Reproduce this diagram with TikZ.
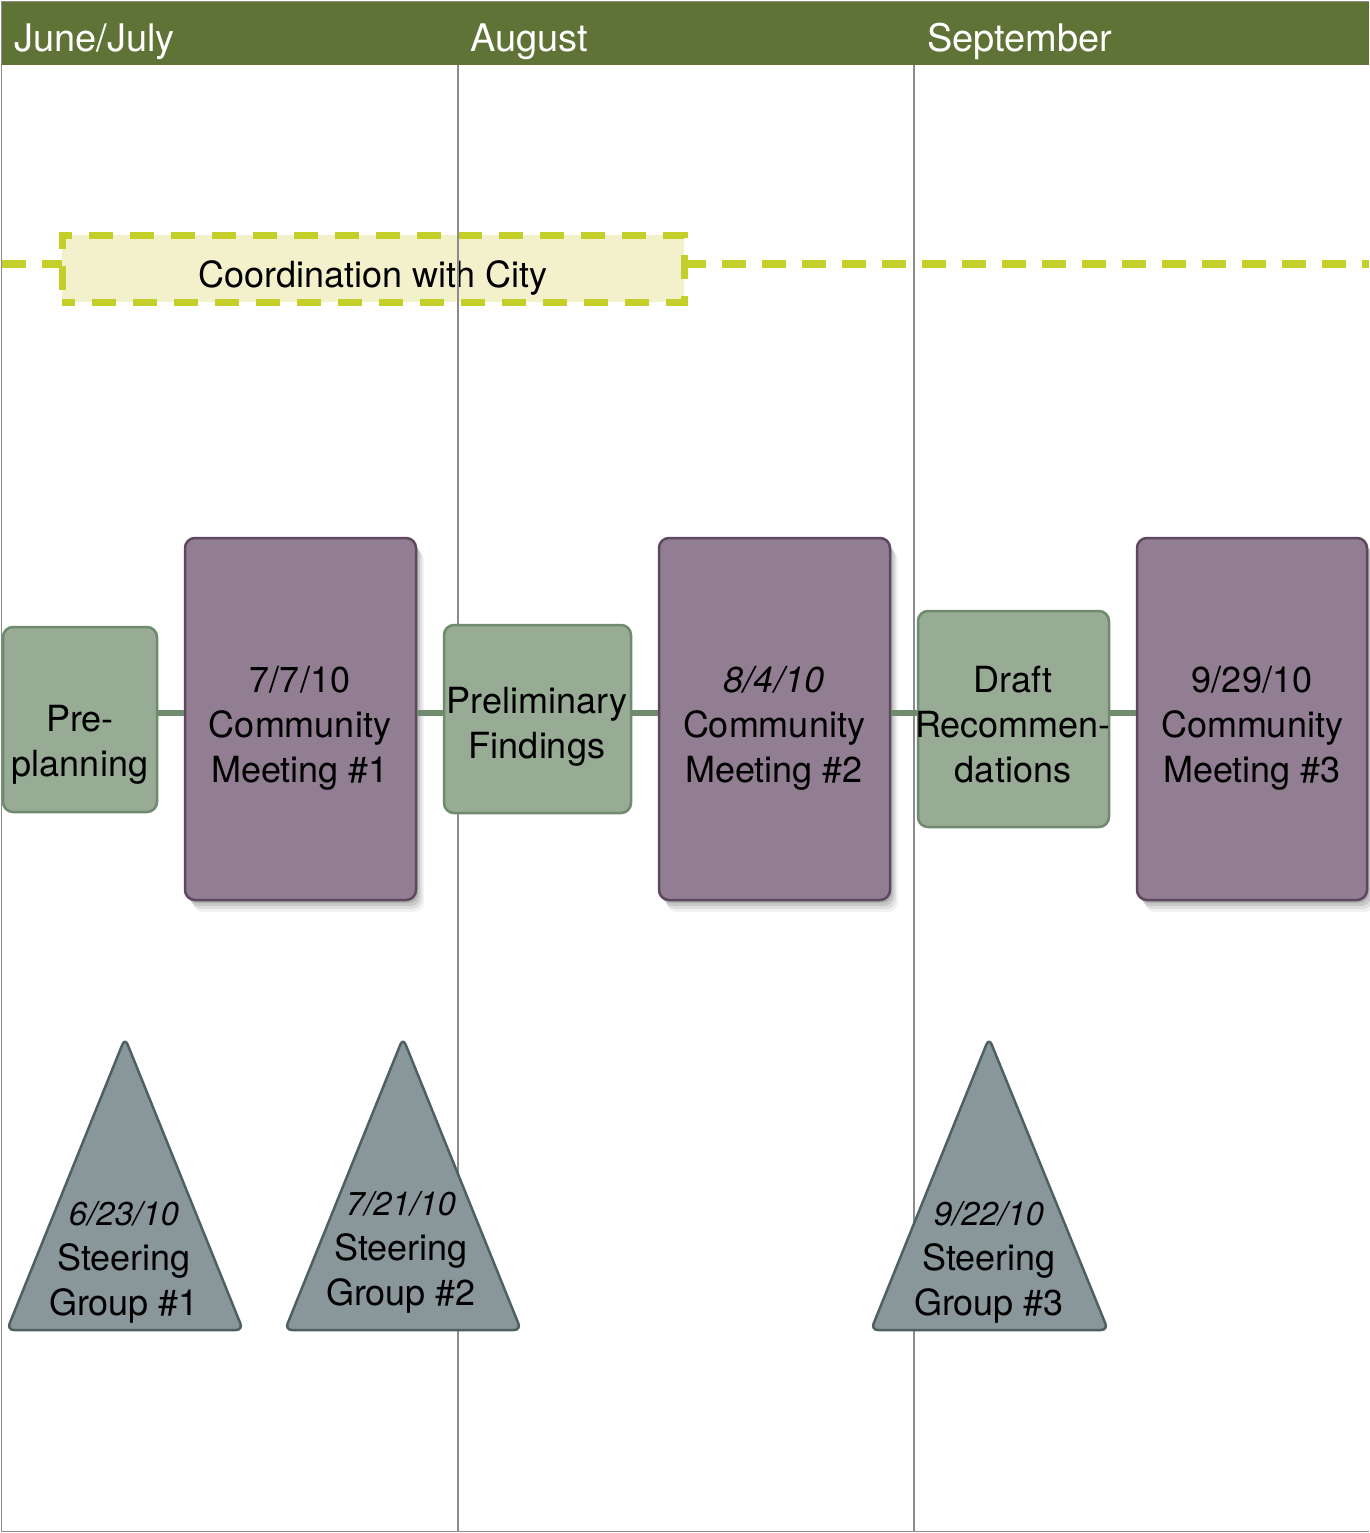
\documentclass[tikz,border=0pt]{standalone}
\usepackage{fontspec}
\setmainfont{TeX Gyre Heros}
\usetikzlibrary{shadows}
\definecolor{hdr}{HTML}{5E7335}
\definecolor{coordfill}{HTML}{F2F1CC}
\definecolor{coorddash}{HTML}{C5CF2A}
\definecolor{greenfill}{HTML}{97AB95}
\definecolor{greenline}{HTML}{6E8B6D}
\definecolor{purpfill}{HTML}{927E92}
\definecolor{purpline}{HTML}{5F4760}
\definecolor{trifill}{HTML}{8A979A}
\definecolor{triline}{HTML}{4F6064}
\definecolor{divgray}{HTML}{8C8C8C}
\begin{document}
\begin{tikzpicture}[x=1pt,y=-1pt,
  hdrtext/.style={text=white,font=\fontsize{38}{45}\selectfont,inner sep=0pt,anchor=base west},
  coordbox/.style={fill=coordfill,draw=coorddash,line width=7pt,dash pattern=on 24pt off 17pt,dash phase=11pt,inner sep=0pt},
  coordline/.style={draw=coorddash,line width=8pt,dash pattern=on 24pt off 16pt},
  divider/.style={draw=divgray,line width=1.4pt},
  greenbox/.style={fill=greenfill,draw=greenline,line width=2.5pt,rounded corners=10pt,inner sep=0pt},
  purpbox/.style={fill=purpfill,draw=purpline,line width=2.5pt,rounded corners=10pt,inner sep=0pt,
     drop shadow={shadow xshift=2pt,shadow yshift=-3pt,opacity=.12,fill=black},
     drop shadow={shadow xshift=4pt,shadow yshift=-6pt,opacity=.10,fill=black},
     drop shadow={shadow xshift=6pt,shadow yshift=-9pt,opacity=.08,fill=black},
     drop shadow={shadow xshift=8pt,shadow yshift=-12pt,opacity=.05,fill=black}},
  conn/.style={draw=greenline,line width=6pt},
  tri/.style={fill=trifill,draw=triline,line width=2.5pt,rounded corners=7pt},
  boxtext/.style={align=center,inner sep=0pt,font=\fontsize{36}{45}\selectfont},
  datefont/.style={}
]
\useasboundingbox (0,0) rectangle (1369,1533);
\fill[white] (0,0) rectangle (1369,1533);

% header band
\fill[hdr] (2,2) rectangle (1369,65);
\node[hdrtext] (hjj) at (14,52) {June/July};
\node[hdrtext] (haug) at (470,52) {August};
\node[hdrtext] (hsep) at (927,52) {September};

% outer frame
\draw[divgray,line width=1.4pt] (1369,1.5) -- (1.5,1.5) -- (1.5,1531.5) -- (1369,1531.5);

% coordination with city
\coordinate (cl) at (2,264);
\coordinate (cr) at (1369,264);
\draw[coordline] (cl) -- (cr);
\node[coordbox,minimum width=622pt,minimum height=67pt] (coord) at (373,268.5) {};
\node[inner sep=0pt,anchor=base,font=\fontsize{36}{45}\selectfont] (coordtxt) at (373,287) {Coordination with City};

% month dividers
\draw[divider] (458,65) -- (458,1531);
\draw[divider] (914,65) -- (914,1531);

% process boxes
\node[greenbox,minimum width=154pt,minimum height=185pt] (pp) at (80,719.5) {};
\node[purpbox,minimum width=231pt,minimum height=362pt] (cm1) at (300.5,719) {};
\node[greenbox,minimum width=187pt,minimum height=188pt] (pf) at (537.5,719) {};
\node[purpbox,minimum width=231pt,minimum height=362pt] (cm2) at (774.5,719) {};
\node[greenbox,minimum width=191pt,minimum height=216pt] (dr) at (1013.5,719) {};
\node[purpbox,minimum width=230pt,minimum height=362pt] (cm3) at (1252,719) {};

% connectors
\draw[conn] (pp.east |- 0,713) -- (cm1.west |- 0,713);
\draw[conn] (cm1.east |- 0,713) -- (pf.west |- 0,713);
\draw[conn] (pf.east |- 0,713) -- (cm2.west |- 0,713);
\draw[conn] (cm2.east |- 0,713) -- (dr.west |- 0,713);
\draw[conn] (dr.east |- 0,713) -- (cm3.west |- 0,713);

% box texts
\node[boxtext] (pptxt) at (80,745) {Pre-\\planning};
\node[boxtext] (cm1txt) at (300,728) {7/7/10\\Community\\Meeting \#1};
\node[boxtext] (pftxt) at (537,727) {Preliminary\\Findings};
\node[boxtext] (cm2txt) at (774,728) {\itshape 8/4/10\\Community\\Meeting \#2};
\node[boxtext] (drtxt) at (1013,725) {Draft\\Recommen-\\dations};
\node[boxtext] (cm3txt) at (1252,728) {9/29/10\\Community\\Meeting \#3};

% steering group triangles
\filldraw[tri] (125,1038) -- (243,1330) -- (7,1330) -- cycle;
\filldraw[tri] (403,1038) -- (521,1330) -- (285,1330) -- cycle;
\filldraw[tri] (989,1038) -- (1108,1330) -- (871,1330) -- cycle;
\node[boxtext] (sg1) at (124,1262) {{\fontsize{33}{45}\selectfont\itshape 6/23/10}\\Steering\\Group \#1};
\node[boxtext] (sg2) at (401,1252) {{\fontsize{33}{45}\selectfont\itshape 7/21/10}\\Steering\\Group \#2};
\node[boxtext] (sg3) at (989,1262) {{\fontsize{33}{45}\selectfont\itshape 9/22/10}\\Steering\\Group \#3};
\end{tikzpicture}
\end{document}
